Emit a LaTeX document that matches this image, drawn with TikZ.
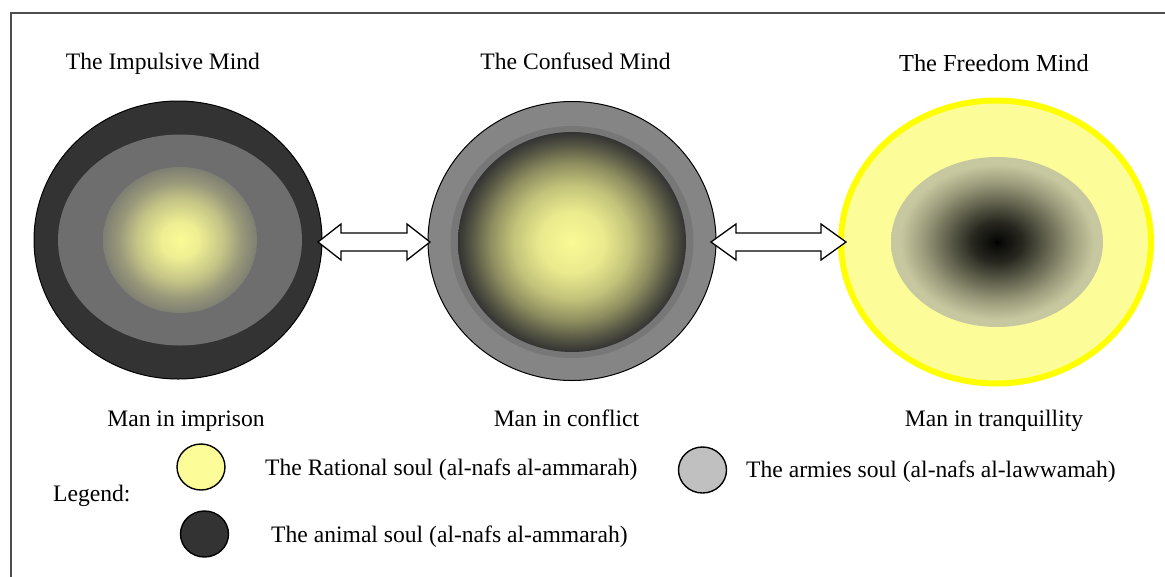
\documentclass[tikz,border=0pt]{standalone}
\usepackage{fontspec}
\setmainfont{Liberation Serif}
\usetikzlibrary{shapes.geometric,calc}
\definecolor{darksoul}{HTML}{333333}
\definecolor{ringgray}{HTML}{6E6E6E}
\definecolor{coreyellow}{HTML}{FAFA96}
\definecolor{midgray}{HTML}{858585}
\definecolor{midring}{HTML}{777777}
\definecolor{paleyellow}{HTML}{FCFC99}
\definecolor{brightyellow}{HTML}{FFFF00}
\definecolor{khaki}{HTML}{C8C8A0}
\definecolor{legendgray}{HTML}{C0C0C0}
\definecolor{framegray}{HTML}{4D4D4D}
\pgfdeclareradialshading{leftcore}{\pgfpoint{0bp}{0bp}}{%
  color(0bp)=(coreyellow); color(6bp)=(coreyellow!92!ringgray);
  color(14bp)=(coreyellow!62!ringgray); color(20bp)=(coreyellow!30!ringgray);
  color(25bp)=(coreyellow!12!ringgray); color(50bp)=(coreyellow!12!ringgray)}
\pgfdeclareradialshading{midcore}{\pgfpoint{0bp}{0bp}}{%
  color(0bp)=(coreyellow); color(7bp)=(coreyellow!92!darksoul);
  color(13bp)=(coreyellow!72!darksoul); color(18bp)=(coreyellow!45!darksoul);
  color(22bp)=(coreyellow!18!darksoul); color(25bp)=(darksoul); color(50bp)=(darksoul)}
\pgfdeclareradialshading{rightcore}{\pgfpoint{0bp}{0bp}}{%
  color(0bp)=(black); color(1bp)=(black!95!khaki); color(6bp)=(black!80!khaki);
  color(12bp)=(black!50!khaki); color(18bp)=(black!20!khaki);
  color(23bp)=(khaki); color(50bp)=(khaki)}
\tikzset{
  blob/.style={ellipse, inner sep=0pt, outer sep=0pt},
  lab/.style={inner sep=0pt, font=\fontsize{23.6}{28}\selectfont, anchor=base},
  labw/.style={lab, anchor=base west},
  blockarrow/.style={draw=black, fill=white, line width=1.3pt, line join=miter},
  legendblob/.style={blob, draw=black, line width=1.4pt, minimum width=48pt, minimum height=46pt}
}
\begin{document}
\begin{tikzpicture}[x=1pt, y=-1pt]
\useasboundingbox (0,0) rectangle (1165,576);
\clip (0,0) rectangle (1165,576);
\fill[white] (0,0) rectangle (1165,576);
\draw[framegray, line width=1.6pt] (11,13) rectangle (1190,600);

% left circle
\node[blob, draw=black, line width=1pt, fill=darksoul, minimum width=288pt, minimum height=278pt] (c1) at (178,240) {};
\node[blob, fill=ringgray, minimum width=244pt, minimum height=211pt] (c1ring) at (180,240) {};
\node[blob, shading=leftcore, minimum width=154pt, minimum height=146pt] (c1core) at (180,240) {};

% middle circle
\node[blob, draw=black, line width=1pt, fill=midgray, minimum width=288pt, minimum height=279pt] (c2) at (572,241) {};
\node[blob, fill=midring, minimum width=243pt, minimum height=232pt] (c2ring) at (572,242) {};
\node[blob, shading=midcore, minimum width=228pt, minimum height=220pt] (c2core) at (572,242) {};

% right circle
\node[blob, draw=brightyellow, line width=6pt, fill=paleyellow, minimum width=310pt, minimum height=283pt] (c3) at (996,242) {};
\node[blob, shading=rightcore, minimum width=212pt, minimum height=170pt] (c3core) at (997,242) {};

% double block arrows
\coordinate (a1l) at ($(c1.east)+(-4,2)$);
\coordinate (a1r) at ($(c2.west)+(2,1)$);
\draw[blockarrow] (a1l) -- ++(23,-18) -- ++(0,9) -- ($(a1r)+(-23,-9)$) -- ++(0,-9) -- (a1r)
  -- ++(-23,18) -- ++(0,-9) -- ($(a1l)+(23,9)$) -- ++(0,9) -- cycle;
\coordinate (a2l) at ($(c2.east)+(-5,1)$);
\coordinate (a2r) at ($(c3.west)+(5,0)$);
\draw[blockarrow] (a2l) -- ++(25,-18) -- ++(0,9) -- ($(a2r)+(-25,-9)$) -- ++(0,-9) -- (a2r)
  -- ++(-25,18) -- ++(0,-9) -- ($(a2l)+(25,9)$) -- ++(0,9) -- cycle;

% titles
\node[lab] (t1) at (163,69.5) {The Impulsive Mind};
\node[lab] (t2) at (575.5,69.5) {The Confused Mind};
\node[lab, font=\fontsize{24.4}{29}\selectfont] (t3) at (994,71.5) {The Freedom Mind};

% captions
\node[lab] (m1) at (186,426.5) {Man in imprison};
\node[lab] (m2) at (566.5,426.5) {Man in conflict};
\node[lab] (m3) at (994,426.5) {Man in tranquillity};

% legend
\node[labw] (lg) at (53,501) {Legend:};
\node[legendblob, fill=paleyellow] (ly) at (201,467) {};
\node[legendblob, fill=darksoul] (ld) at (204.5,534) {};
\node[legendblob, fill=legendgray] (lgr) at (702.5,470) {};
\node[labw] (ty) at (265,475) {The Rational soul (al-nafs al-ammarah)};
\node[labw] (td) at (271,542) {The animal soul (al-nafs al-ammarah)};
\node[labw] (tg) at (746,477) {The armies soul (al-nafs al-lawwamah)};
\end{tikzpicture}
\end{document}
